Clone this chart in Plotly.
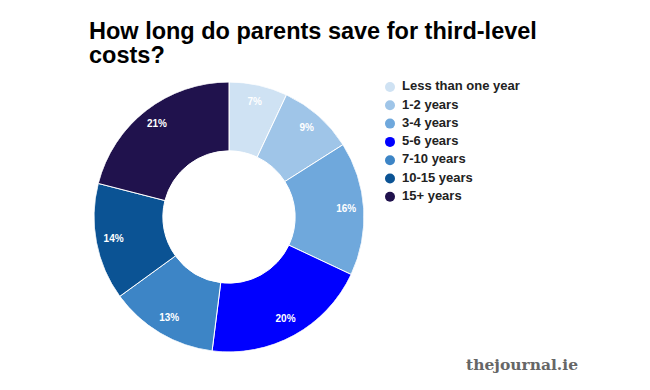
import numpy as np
import plotly.graph_objects as go

categories = ["Less than one year", "1-2 years", "3-4 years", "5-6 years",
              "7-10 years", "10-15 years", "15+ years"]
values = [7, 9, 16, 20, 13, 14, 21]
colors = ["#cfe2f3", "#9fc5e8", "#6fa8dc", "#0000ff", "#3d85c6", "#0b5394", "#20124d"]
title_lines = ["How long do parents save for third-level", "costs?"]

W, H = 650, 390
OFF = 8  # page body margin
HOLE = 0.49


def px(x):
    return (x - OFF) / W


def py(y):
    return 1 - (y - OFF) / H


pie_dom = dict(x=[px(94), px(364)], y=[py(352), py(82)])

fig = go.Figure()

# donut drawn as polar bars: angle spans proportional to the values
vals = np.array(values, dtype=float)
pct = vals / vals.sum() * 100
mid = (np.cumsum(pct) - pct / 2) * 3.6
fig.add_trace(go.Barpolar(
    theta=mid, width=pct * 3.6, base=[HOLE] * len(values), r=[1 - HOLE] * len(values),
    marker=dict(color=colors, line=dict(color="white", width=1)),
    showlegend=False, hoverinfo="skip",
))
fig.add_trace(go.Scatterpolar(
    r=[0.87] * len(values), theta=mid, mode="text",
    text=[f"{p:.0f}%" for p in pct],
    textfont=dict(family="Liberation Sans", size=10, color="white", weight="bold"),
    showlegend=False, hoverinfo="skip",
))

# legend drawn on hidden pixel axes
idx = np.arange(len(categories))
leg_y = 87 - OFF + idx * 18.3
fig.add_trace(go.Scatter(
    x=[390 - OFF] * len(categories), y=leg_y, mode="markers",
    marker=dict(symbol="circle", size=10, color=colors),
    showlegend=False, hoverinfo="skip",
))
fig.add_trace(go.Scatter(
    x=[402 - OFF] * len(categories), y=leg_y, mode="text", text=categories,
    textposition="middle right",
    textfont=dict(family="Liberation Sans", size=13, color="#222222", weight="bold"),
    showlegend=False, hoverinfo="skip",
))

annotations = [
    dict(text=title_lines[0], x=px(87), y=py(31), xref="paper", yref="paper",
         xanchor="left", yanchor="middle", showarrow=False,
         font=dict(family="Liberation Sans", size=23.5, color="black", weight="bold")),
    dict(text=title_lines[1], x=px(87), y=py(55), xref="paper", yref="paper",
         xanchor="left", yanchor="middle", showarrow=False,
         font=dict(family="Liberation Sans", size=23.5, color="black", weight="bold")),
    dict(text="thejournal.ie", x=px(464), y=py(364), xref="paper", yref="paper",
         xanchor="left", yanchor="middle", showarrow=False,
         font=dict(family="DejaVu Serif", size=15.5, color="#666666", weight="bold")),
]

fig.update_layout(
    width=W, height=H,
    margin=dict(l=0, r=0, t=0, b=0),
    paper_bgcolor="white", plot_bgcolor="white",
    xaxis=dict(visible=False, range=[0, W], domain=[0, 1], fixedrange=True),
    yaxis=dict(visible=False, range=[H, 0], domain=[0, 1], fixedrange=True),
    polar=dict(
        domain=pie_dom, bgcolor="rgba(0,0,0,0)",
        radialaxis=dict(visible=False, range=[0, 1]),
        angularaxis=dict(visible=False, rotation=90, direction="clockwise"),
        bargap=0,
    ),
    annotations=annotations,
    showlegend=False,
)

fig.write_html("out.html")
